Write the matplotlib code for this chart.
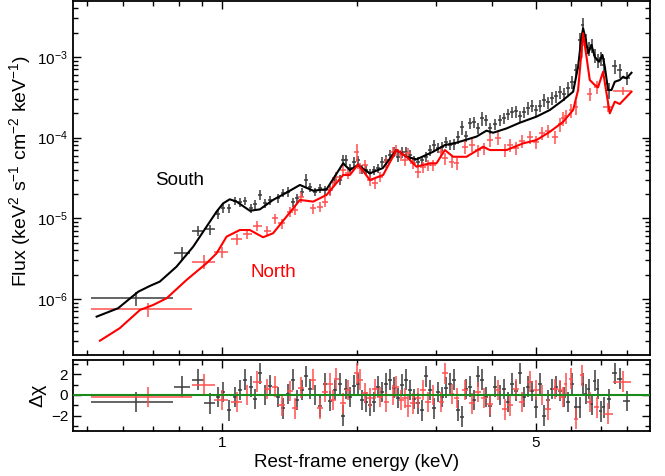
import numpy as np
import matplotlib
matplotlib.use("Agg")
import matplotlib.pyplot as plt
from matplotlib.ticker import FixedLocator, NullFormatter, LogLocator, FixedFormatter

# ── Fonts ─────────────────────────────────────────────────────────────────────
plt.rcParams["font.family"] = ["Liberation Sans", "DejaVu Sans"]
plt.rcParams["mathtext.fontset"] = "custom"
plt.rcParams["mathtext.rm"] = "Liberation Sans"
plt.rcParams["mathtext.it"] = "Liberation Sans:italic"
plt.rcParams["mathtext.sf"] = "Liberation Sans"

# ── South: data (keV, keV^2 s^-1 cm^-2 keV^-1) ────────────────────────────────
south_E = [0.644, 0.814, 0.884, 0.939, 0.978, 1.004, 1.035, 1.067, 1.095, 1.124,
           1.159, 1.183, 1.214, 1.245, 1.278, 1.331, 1.366, 1.402, 1.438, 1.468,
           1.506, 1.537, 1.569, 1.610, 1.652, 1.695, 1.739, 1.784, 1.830, 1.859,
           1.888, 1.927, 1.967, 2.007, 2.049, 2.092, 2.135, 2.180, 2.225, 2.271,
           2.318, 2.366, 2.415, 2.466, 2.517, 2.569, 2.622, 2.677, 2.733, 2.789,
           2.847, 2.905, 2.966, 3.027, 3.090, 3.154, 3.219, 3.287, 3.355, 3.424,
           3.495, 3.567, 3.642, 3.718, 3.795, 3.873, 3.954, 4.058, 4.162, 4.249,
           4.337, 4.427, 4.519, 4.612, 4.709, 4.806, 4.906, 5.008, 5.111, 5.218,
           5.326, 5.437, 5.550, 5.665, 5.782, 5.902, 6.025, 6.150, 6.278, 6.375,
           6.474, 6.574, 6.676, 6.779, 6.884, 6.991, 7.100, 7.285, 7.513, 7.707,
           7.990]
south_dE = [0.133, 0.032, 0.026, 0.026, 0.010, 0.011, 0.011, 0.011, 0.011, 0.012,
            0.012, 0.012, 0.013, 0.013, 0.013, 0.014, 0.014, 0.014, 0.015, 0.015,
            0.015, 0.016, 0.016, 0.016, 0.017, 0.017, 0.018, 0.018, 0.019, 0.019,
            0.019, 0.020, 0.020, 0.021, 0.021, 0.021, 0.022, 0.022, 0.023, 0.023,
            0.024, 0.024, 0.025, 0.025, 0.026, 0.026, 0.027, 0.027, 0.028, 0.028,
            0.029, 0.030, 0.030, 0.031, 0.031, 0.032, 0.033, 0.033, 0.034, 0.035,
            0.035, 0.036, 0.037, 0.038, 0.038, 0.039, 0.040, 0.045, 0.046, 0.043,
            0.044, 0.045, 0.046, 0.047, 0.048, 0.049, 0.050, 0.051, 0.052, 0.053,
            0.054, 0.055, 0.056, 0.057, 0.058, 0.060, 0.061, 0.062, 0.050, 0.045,
            0.048, 0.050, 0.050, 0.050, 0.052, 0.052, 0.055, 0.080, 0.090, 0.100,
            0.140]
south_F = [1.02e-6, 3.68e-6, 7.02e-6, 7.31e-6, 1.13e-5, 1.34e-5, 1.34e-5, 1.64e-5, 1.59e-5, 1.64e-5,
           1.34e-5, 1.50e-5, 1.95e-5, 1.55e-5, 1.69e-5, 1.78e-5, 2.06e-5, 2.12e-5, 1.59e-5, 1.78e-5,
           2.12e-5, 2.98e-5, 2.44e-5, 2.12e-5, 2.37e-5, 2.24e-5, 2.24e-5, 2.98e-5, 2.98e-5, 5.28e-5,
           5.28e-5, 4.20e-5, 4.99e-5, 5.28e-5, 4.08e-5, 3.97e-5, 3.64e-5, 3.97e-5, 4.20e-5, 4.99e-5,
           5.28e-5, 6.08e-5, 6.63e-5, 5.75e-5, 6.63e-5, 6.63e-5, 6.08e-5, 5.28e-5, 4.99e-5, 5.28e-5,
           5.75e-5, 7.02e-5, 8.09e-5, 7.43e-5, 7.64e-5, 8.82e-5, 8.09e-5, 8.33e-5, 1.02e-4, 1.35e-4,
           1.05e-4, 1.52e-4, 1.56e-4, 1.31e-4, 1.75e-4, 1.65e-4, 1.31e-4, 1.47e-4, 1.65e-4, 1.75e-4,
           1.96e-4, 2.07e-4, 2.13e-4, 1.85e-4, 2.07e-4, 2.33e-4, 2.47e-4, 2.20e-4, 2.47e-4, 2.92e-4,
           2.76e-4, 3.10e-4, 3.28e-4, 3.67e-4, 3.47e-4, 4.12e-4, 4.89e-4, 6.89e-4, 1.62e-3, 2.48e-3,
           1.62e-3, 1.29e-3, 1.40e-3, 1.06e-3, 9.16e-4, 9.69e-4, 7.94e-4, 3.89e-4, 7.71e-4, 6.88e-4,
           5.48e-4]
south_ferr = [0.19, 0.20, 0.14, 0.14, 0.14, 0.13, 0.13, 0.12, 0.12, 0.12,
              0.13, 0.12, 0.14, 0.13, 0.13, 0.13, 0.12, 0.14, 0.13, 0.12,
              0.13, 0.20, 0.13, 0.12, 0.13, 0.12, 0.13, 0.14, 0.14, 0.16,
              0.14, 0.13, 0.14, 0.13, 0.13, 0.14, 0.12, 0.13, 0.13, 0.14,
              0.14, 0.15, 0.14, 0.14, 0.15, 0.14, 0.14, 0.13, 0.14, 0.13,
              0.14, 0.16, 0.15, 0.14, 0.14, 0.15, 0.14, 0.15, 0.18, 0.20,
              0.15, 0.16, 0.15, 0.15, 0.20, 0.16, 0.15, 0.16, 0.15, 0.16,
              0.16, 0.16, 0.17, 0.16, 0.16, 0.17, 0.17, 0.16, 0.17, 0.18,
              0.17, 0.18, 0.17, 0.18, 0.18, 0.18, 0.19, 0.20, 0.22, 0.24,
              0.20, 0.20, 0.20, 0.20, 0.20, 0.20, 0.22, 0.22, 0.20, 0.20,
              0.18]
south_res = [-0.7, 0.8, 1.5, -0.8, -0.2, 0.3, -1.5, -0.2, 0.5, 1.5,
             0.8, -0.4, 2.1, 0.0, 0.9, -0.2, -1.3, 0.1, 1.5, -0.5,
             0.5, 1.8, 0.6, 0.0, -1.1, 1.1, -0.6, 0.5, 1.1, -2.0,
             0.6, -0.2, 0.9, 1.1, -0.5, -0.7, -1.0, -0.7, 0.8, 0.3,
             1.1, 1.5, 0.7, -0.3, 1.0, 1.5, 0.5, -0.4, -0.8, -1.5,
             1.8, 0.5, -1.3, 0.3, -0.2, 0.7, 1.1, 1.5, -1.5, -2.1,
             0.6, 0.8, -0.5, 1.8, 1.5, -0.2, -1.1, 0.8, 0.0, 0.6,
             -0.7, 1.1, 0.4, 2.1, -0.2, 0.8, 0.4, -1.2, 1.1, -2.0,
             -0.5, 0.6, 0.8, 0.4, -0.2, -0.7, 1.1, -1.2, -1.2, 1.1,
             0.1, 0.6, -0.9, 1.4, 0.6, -1.6, -1.2, -0.4, 2.1, 1.6,
             -0.6]

# ── North: data ───────────────────────────────────────────────────────────────
north_E = [0.683, 0.909, 0.997, 1.077, 1.139, 1.199, 1.262, 1.311, 1.357, 1.416,
           1.453, 1.503, 1.596, 1.652, 1.695, 1.739, 1.769, 1.799, 1.862, 1.910,
           1.994, 2.028, 2.081, 2.135, 2.191, 2.247, 2.326, 2.407, 2.448, 2.512,
           2.555, 2.599, 2.667, 2.736, 2.807, 2.880, 2.955, 3.085, 3.139, 3.248,
           3.333, 3.478, 3.605, 3.718, 3.835, 3.954, 4.120, 4.270, 4.381, 4.519,
           4.660, 4.856, 5.008, 5.164, 5.326, 5.521, 5.665, 5.753, 5.842, 5.994,
           6.150, 6.342, 6.607, 6.839, 7.260, 7.820]
north_dE = [0.172, 0.054, 0.036, 0.030, 0.028, 0.026, 0.024, 0.022, 0.022, 0.022,
            0.022, 0.023, 0.024, 0.025, 0.026, 0.026, 0.026, 0.026, 0.028, 0.028,
            0.030, 0.030, 0.030, 0.032, 0.032, 0.033, 0.034, 0.035, 0.036, 0.037,
            0.038, 0.038, 0.039, 0.040, 0.042, 0.044, 0.045, 0.046, 0.047, 0.048,
            0.050, 0.052, 0.054, 0.056, 0.058, 0.060, 0.062, 0.064, 0.066, 0.068,
            0.070, 0.072, 0.074, 0.076, 0.078, 0.080, 0.060, 0.050, 0.050, 0.060,
            0.070, 0.060, 0.090, 0.090, 0.190, 0.360]
north_F = [7.45e-7, 2.90e-6, 3.85e-6, 5.54e-6, 6.38e-6, 8.03e-6, 7.02e-6, 1.00e-5, 8.67e-6, 1.21e-5,
           1.27e-5, 1.84e-5, 1.33e-5, 1.39e-5, 1.61e-5, 2.24e-5, 2.82e-5, 3.25e-5, 3.97e-5, 3.61e-5,
           6.63e-5, 4.17e-5, 4.57e-5, 2.98e-5, 2.71e-5, 3.28e-5, 5.03e-5, 6.68e-5, 7.02e-5, 6.08e-5,
           5.27e-5, 6.38e-5, 4.80e-5, 3.78e-5, 4.36e-5, 4.57e-5, 4.57e-5, 6.68e-5, 5.54e-5, 5.03e-5,
           4.80e-5, 7.64e-5, 8.09e-5, 7.02e-5, 7.43e-5, 9.33e-5, 9.89e-5, 7.02e-5, 8.09e-5, 7.43e-5,
           9.08e-5, 1.02e-4, 8.82e-5, 1.14e-4, 1.21e-4, 1.02e-4, 1.47e-4, 1.75e-4, 1.85e-4, 2.20e-4,
           2.39e-4, 1.40e-3, 3.47e-4, 4.24e-4, 2.42e-4, 3.81e-4]
north_ferr = [0.19, 0.20, 0.16, 0.15, 0.14, 0.14, 0.14, 0.14, 0.14, 0.14,
              0.14, 0.15, 0.14, 0.14, 0.14, 0.15, 0.15, 0.15, 0.15, 0.15,
              0.25, 0.15, 0.15, 0.15, 0.15, 0.15, 0.16, 0.16, 0.16, 0.16,
              0.16, 0.16, 0.16, 0.16, 0.16, 0.16, 0.16, 0.17, 0.17, 0.17,
              0.17, 0.18, 0.18, 0.17, 0.17, 0.18, 0.18, 0.18, 0.18, 0.18,
              0.18, 0.19, 0.18, 0.19, 0.19, 0.19, 0.20, 0.20, 0.20, 0.20,
              0.20, 0.30, 0.18, 0.18, 0.15, 0.12]
north_res = [-0.2, 1.0, -0.5, -0.7, 0.0, 1.3, 0.6, 0.8, -1.0, 0.4,
             -1.3, 0.7, 1.5, -1.3, 0.3, 1.1, -0.5, 1.6, -0.8, 0.5,
             2.1, 1.5, 0.2, -0.3, 0.6, -0.2, -0.7, 0.0, 0.8, -0.5,
             -0.3, -1.1, -0.8, -0.3, 0.5, -0.7, 0.0, -0.7, 2.1, 0.1,
             -0.3, 0.5, -0.8, 0.3, -0.3, -0.9, 0.5, -1.4, -1.0, 0.6,
             -0.7, 1.3, 0.5, 0.0, -1.4, 0.6, 0.5, -0.2, 1.1, 1.6,
             -2.3, 1.9, -0.7, -1.2, -1.8, 1.3]

# ── Best-fit models ───────────────────────────────────────────────────────────
south_model_E = [0.525, 0.586, 0.650, 0.690, 0.726, 0.791, 0.862, 0.923, 0.972, 1.005,
                 1.040, 1.077, 1.153, 1.214, 1.299, 1.392, 1.491, 1.596, 1.710, 1.862,
                 1.927, 2.007, 2.135, 2.283, 2.448, 2.578, 2.714, 2.955, 3.139, 3.332,
                 3.693, 3.887, 4.022, 4.308, 4.612, 5.025, 5.381, 5.762, 6.065, 6.222,
                 6.332, 6.385, 6.474, 6.551, 6.667, 6.779, 6.930, 7.051, 7.137, 7.258,
                 7.386, 7.513, 7.707, 7.840, 7.978, 8.185]
south_model_F = [6.04e-7, 7.67e-7, 1.23e-6, 1.45e-6, 1.64e-6, 2.51e-6, 4.45e-6, 7.87e-6, 1.21e-5, 1.53e-5,
                 1.72e-5, 1.61e-5, 1.24e-5, 1.29e-5, 1.69e-5, 2.08e-5, 2.59e-5, 2.20e-5, 2.29e-5, 4.81e-5,
                 3.96e-5, 4.57e-5, 3.61e-5, 4.20e-5, 7.02e-5, 5.79e-5, 5.38e-5, 6.68e-5, 8.09e-5, 8.65e-5,
                 1.03e-4, 1.22e-4, 1.15e-4, 1.30e-4, 1.53e-4, 1.82e-4, 2.20e-4, 2.92e-4, 3.71e-4, 7.57e-4,
                 1.78e-3, 2.26e-3, 1.62e-3, 1.11e-3, 1.40e-3, 1.00e-3, 8.73e-4, 1.06e-3, 7.57e-4, 3.89e-4,
                 3.89e-4, 4.93e-4, 5.18e-4, 5.69e-4, 5.43e-4, 6.37e-4]
north_model_E = [0.534, 0.591, 0.656, 0.702, 0.752, 0.833, 0.923, 0.972, 1.023, 1.095,
                 1.153, 1.234, 1.299, 1.392, 1.491, 1.596, 1.710, 1.862, 1.927, 2.011,
                 2.135, 2.286, 2.448, 2.578, 2.714, 2.905, 3.007, 3.139, 3.275, 3.508,
                 3.820, 3.954, 4.308, 4.692, 5.025, 5.381, 5.762, 6.065, 6.222, 6.385,
                 6.497, 6.607, 6.779, 6.893, 7.074, 7.200, 7.322, 7.513, 7.707, 8.185]
north_model_F = [3.04e-7, 4.34e-7, 7.31e-7, 8.43e-7, 1.02e-6, 1.72e-6, 2.77e-6, 3.68e-6, 5.92e-6, 7.16e-6,
                 7.16e-6, 5.82e-6, 6.52e-6, 1.05e-5, 1.69e-5, 1.61e-5, 1.95e-5, 3.44e-5, 3.44e-5, 4.67e-5,
                 2.98e-5, 3.44e-5, 7.02e-5, 5.79e-5, 4.36e-5, 4.81e-5, 4.81e-5, 7.02e-5, 5.79e-5, 5.79e-5,
                 7.71e-5, 7.02e-5, 7.02e-5, 8.49e-5, 9.33e-5, 1.18e-4, 1.57e-4, 2.20e-4, 3.89e-4, 1.96e-3,
                 1.00e-3, 5.18e-4, 4.49e-4, 4.20e-4, 6.56e-4, 3.54e-4, 2.00e-4, 2.79e-4, 2.61e-4, 3.71e-4]

X_MAJOR = [1, 5]
X_MINOR = [0.5, 0.6, 0.7, 0.8, 0.9, 2, 3, 4, 6, 7, 8]

colors = {"south_data": "#3a3a3a", "north_data": "#ff4f4f",
          "south_model": "black", "north_model": "#ff0000"}

# ── Figure ────────────────────────────────────────────────────────────────────
fig = plt.figure(figsize=(6.65, 4.76), dpi=100)
ax = fig.add_axes([0.1098, 0.2542, 0.8676, 0.7437])
axr = fig.add_axes([0.1098, 0.0945, 0.8676, 0.1492], sharex=ax)

sE, sF = np.array(south_E), np.array(south_F)
nE, nF = np.array(north_E), np.array(north_F)

ax.errorbar(sE, sF, xerr=south_dE, yerr=sF * np.array(south_ferr), fmt="none",
            ecolor=colors["south_data"], elinewidth=1.1, capsize=0, zorder=2)
ax.errorbar(nE, nF, xerr=north_dE, yerr=nF * np.array(north_ferr), fmt="none",
            ecolor=colors["north_data"], elinewidth=1.1, capsize=0, zorder=2)
ax.plot(south_model_E, south_model_F, color=colors["south_model"], lw=1.5, zorder=3)
ax.plot(north_model_E, north_model_F, color=colors["north_model"], lw=1.5, zorder=3)

ax.text(0.805, 2.98e-5, "South", fontsize=13.5, color="black", ha="center", va="center")
ax.text(1.298, 2.10e-6, "North", fontsize=13.5, color="#ff0000", ha="center", va="center")

ax.set_xscale("log")
ax.set_yscale("log")
ax.set_xlim(0.465, 9.0)
ax.set_ylim(2.02e-7, 4.94e-3)
ax.yaxis.set_major_locator(LogLocator(base=10))
ax.yaxis.set_minor_locator(LogLocator(base=10, subs=np.arange(2, 10)))
ax.yaxis.set_minor_formatter(NullFormatter())
ax.set_ylabel("Flux (keV$^2$ s$^{-1}$ cm$^{-2}$ keV$^{-1}$)", fontsize=14)
ax.yaxis.set_label_coords(-0.070, 0.52)

# ── Residuals ─────────────────────────────────────────────────────────────────
axr.errorbar(sE, south_res, xerr=south_dE, yerr=1.0, fmt="none",
             ecolor=colors["south_data"], elinewidth=1.1, capsize=0, zorder=2)
axr.errorbar(nE, north_res, xerr=north_dE, yerr=1.0, fmt="none",
             ecolor=colors["north_data"], elinewidth=1.1, capsize=0, zorder=2)
axr.axhline(0, color="#1a8a1a", lw=1.5, zorder=3)
axr.set_ylim(-3.5, 3.4)
axr.yaxis.set_major_locator(FixedLocator([-2, 0, 2]))
axr.yaxis.set_minor_locator(FixedLocator([-3, -1, 1, 3]))
axr.set_ylabel("Δχ", fontsize=14)
axr.yaxis.set_label_coords(-0.047, 0.5)

axr.xaxis.set_major_locator(FixedLocator(X_MAJOR))
axr.xaxis.set_major_formatter(FixedFormatter([str(v) for v in X_MAJOR]))
axr.xaxis.set_minor_locator(FixedLocator(X_MINOR))
axr.xaxis.set_minor_formatter(NullFormatter())
axr.set_xlabel("Rest-frame energy (keV)", fontsize=13.5)
axr.xaxis.set_label_coords(0.492, -0.32)

for a in (ax, axr):
    a.tick_params(which="both", direction="in", top=True, right=True, width=1.0,
                  labelsize=11)
    a.tick_params(which="major", length=6)
    a.tick_params(which="minor", length=3.5)
    for sp in a.spines.values():
        sp.set_linewidth(1.3)
ax.tick_params(labelbottom=False)

fig.savefig("out.png", dpi=100)
